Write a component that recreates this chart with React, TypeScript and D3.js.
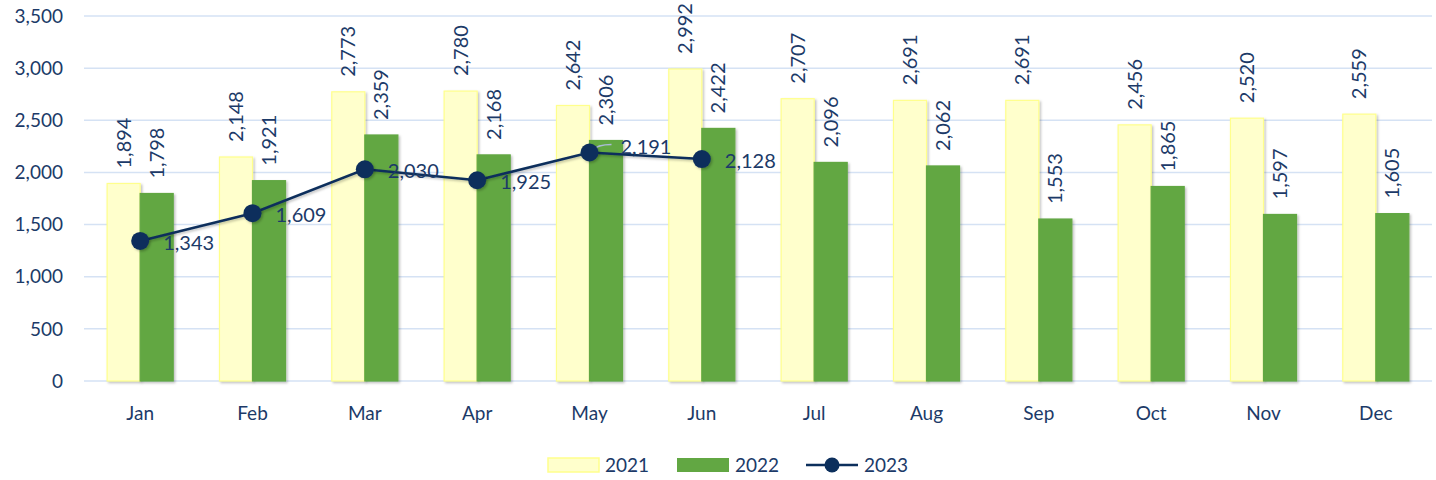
import React, { useEffect, useRef } from "react";
import * as d3 from "d3";

const months = ["Jan", "Feb", "Mar", "Apr", "May", "Jun", "Jul", "Aug", "Sep", "Oct", "Nov", "Dec"];
const values2021 = [1894, 2148, 2773, 2780, 2642, 2992, 2707, 2691, 2691, 2456, 2520, 2559];
const values2022 = [1798, 1921, 2359, 2168, 2306, 2422, 2096, 2062, 1553, 1865, 1597, 1605];
const values2023 = [1343, 1609, 2030, 1925, 2191, 2128];
const yTicks = [0, 500, 1000, 1500, 2000, 2500, 3000, 3500];

const W = 1436;
const H = 480;
const FONT = "Lato, 'Open Sans', sans-serif";
const TEXT = "#1c3a68";
const NAVY = "#0c2f5c";

const App = () => {
  const ref = useRef<SVGSVGElement>(null);

  useEffect(() => {
    const svg = d3.select(ref.current);
    svg.selectAll("*").remove();

    const defs = svg.append("defs");
    const f = defs.append("filter").attr("id", "shadow")
      .attr("x", "-20%").attr("y", "-20%").attr("width", "150%").attr("height", "150%");
    f.append("feDropShadow").attr("dx", 1.5).attr("dy", 1.5).attr("stdDeviation", 1.2)
      .attr("flood-color", "#000").attr("flood-opacity", 0.25);

    const x = d3.scaleBand().domain(months).range([84, 1432]);
    const sub = d3.scaleBand().domain(["2021", "2022"]).range([0, x.bandwidth()]).paddingOuter(0.7);
    const y = d3.scaleLinear().domain([0, 3500]).range([381, 16]);

    // gridlines + y labels
    svg.append("g").selectAll("line").data(yTicks).enter().append("line")
      .attr("x1", 84).attr("x2", 1432)
      .attr("y1", d => y(d)).attr("y2", d => y(d))
      .attr("stroke", "#d5e2f4").attr("stroke-width", 1.5);

    svg.append("g").selectAll("text").data(yTicks).enter().append("text")
      .attr("x", 63).attr("y", d => y(d)).attr("dy", "0.35em")
      .attr("text-anchor", "end").attr("font-family", FONT).attr("font-size", 19)
      .attr("fill", TEXT).text(d => d3.format(",")(d));

    // x labels
    svg.append("g").selectAll("text").data(months).enter().append("text")
      .attr("x", m => x(m)! + x.bandwidth() / 2).attr("y", 420)
      .attr("text-anchor", "middle").attr("font-family", FONT).attr("font-size", 19)
      .attr("fill", TEXT).text(m => m);

    // bars
    const series = [
      { key: "2021", values: values2021, fill: "#ffffcc", stroke: "#ffff8c" },
      { key: "2022", values: values2022, fill: "#62a743", stroke: "#62a743" },
    ];
    series.forEach(s => {
      const g = svg.append("g");
      g.selectAll("rect").data(s.values).enter().append("rect")
        .attr("x", (d, i) => x(months[i])! + sub(s.key)!)
        .attr("y", d => y(d))
        .attr("width", sub.bandwidth())
        .attr("height", d => y(0) - y(d))
        .attr("fill", s.fill).attr("stroke", s.stroke).attr("stroke-width", 1.2)
        .attr("filter", "url(#shadow)");
      g.selectAll("text").data(s.values).enter().append("text")
        .attr("transform", (d, i) => {
          const cx = x(months[i])! + sub(s.key)! + sub.bandwidth() / 2;
          return `translate(${cx},${y(d) - 15}) rotate(-90)`;
        })
        .attr("dy", "0.35em")
        .attr("font-family", FONT).attr("font-size", 20).attr("fill", TEXT)
        .text(d => d3.format(",")(d));
    });

    // 2023 line
    const pts = values2023.map((v, i) => [x(months[i])! + x.bandwidth() / 2, y(v)] as [number, number]);
    svg.append("path").datum(pts)
      .attr("d", d3.line())
      .attr("fill", "none").attr("stroke", NAVY).attr("stroke-width", 2.5)
      .attr("filter", "url(#shadow)");

    // May leader line
    const may = pts[4];
    svg.append("path")
      .attr("d", `M${may[0] + 2},${may[1] - 2} Q${may[0] + 8},${may[1] - 8} ${may[0] + 22},${may[1] - 8}`)
      .attr("fill", "none").attr("stroke", "#a9bcd6").attr("stroke-width", 1.5);

    svg.append("g").selectAll("circle").data(pts).enter().append("circle")
      .attr("cx", d => d[0]).attr("cy", d => d[1]).attr("r", 9)
      .attr("fill", NAVY).attr("filter", "url(#shadow)");

    svg.append("g").selectAll("text").data(values2023).enter().append("text")
      .attr("x", (d, i) => pts[i][0] + (i === 4 ? 31 : 23))
      .attr("y", (d, i) => pts[i][1] + (i === 4 ? -6 : 2))
      .attr("dy", "0.35em")
      .attr("font-family", FONT).attr("font-size", 20).attr("fill", TEXT)
      .text(d => d3.format(",")(d));

    // legend
    const lg = svg.append("g").attr("font-family", FONT).attr("font-size", 19).attr("fill", TEXT);
    lg.append("rect").attr("x", 548).attr("y", 458).attr("width", 51).attr("height", 14)
      .attr("fill", "#ffffcc").attr("stroke", "#ffff8c").attr("stroke-width", 1.5);
    lg.append("text").attr("x", 605).attr("y", 465).attr("dy", "0.35em").text("2021");
    lg.append("rect").attr("x", 677).attr("y", 458).attr("width", 52).attr("height", 14)
      .attr("fill", "#62a743");
    lg.append("text").attr("x", 735).attr("y", 465).attr("dy", "0.35em").text("2022");
    lg.append("line").attr("x1", 806).attr("x2", 858).attr("y1", 465).attr("y2", 465)
      .attr("stroke", NAVY).attr("stroke-width", 2.5);
    lg.append("circle").attr("cx", 832).attr("cy", 465).attr("r", 7.5).attr("fill", NAVY);
    lg.append("text").attr("x", 864).attr("y", 465).attr("dy", "0.35em").text("2023");
  }, []);

  return (
    <svg ref={ref} width={W} height={H}
      style={{ position: "absolute", left: 0, top: 0, background: "#fff" }} />
  );
};

export default App;
